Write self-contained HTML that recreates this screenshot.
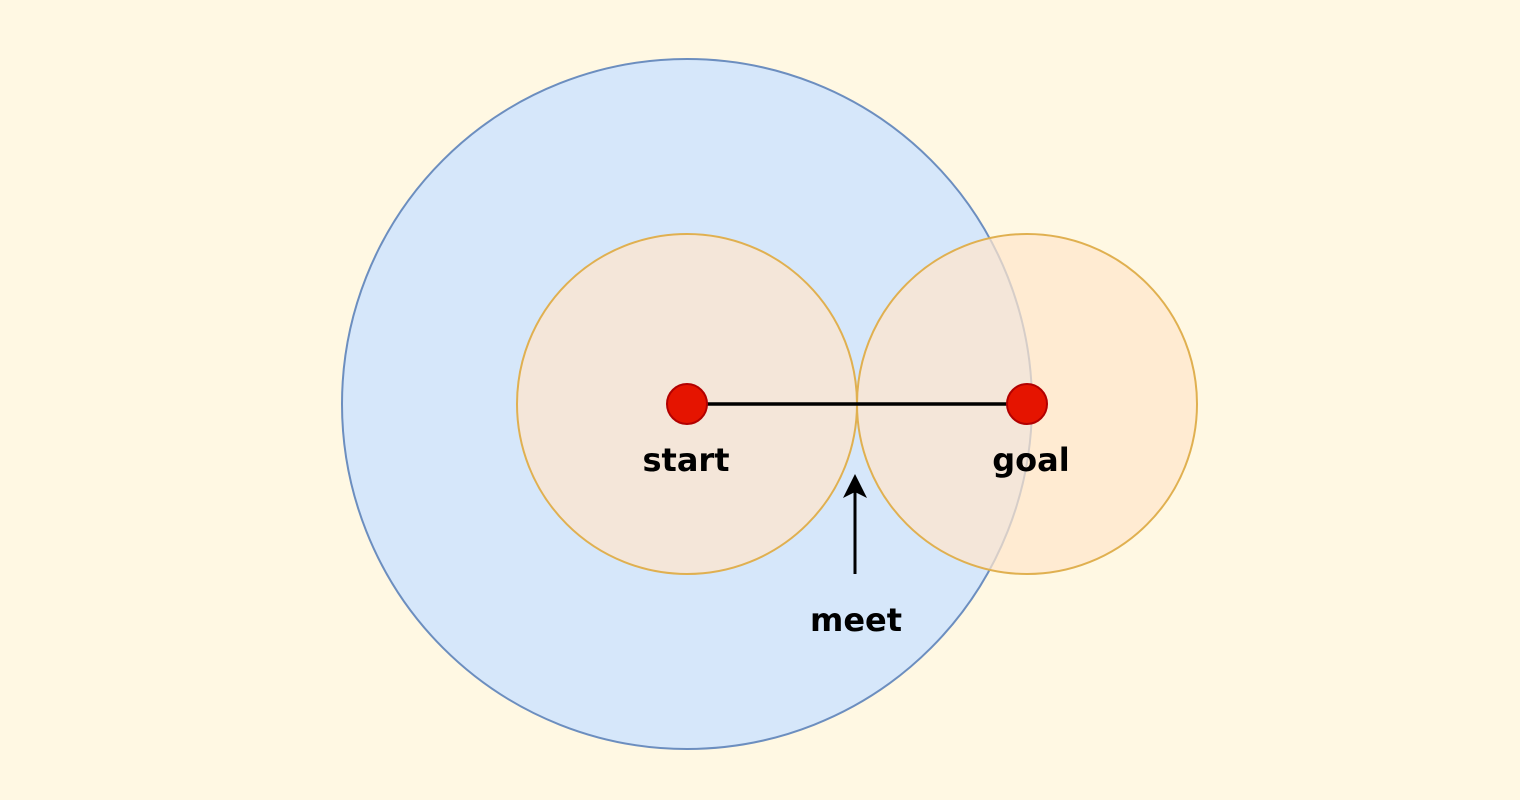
<!DOCTYPE html>
<html><head><meta charset="utf-8"><style>
html,body{margin:0;padding:0;background:#fff8e3;}
svg{display:block}
text{font-family:"DejaVu Sans","Liberation Sans",sans-serif;font-weight:bold;font-size:32px;fill:#000;text-anchor:middle}
</style></head><body>
<svg width="1520" height="800" viewBox="0 0 1520 800">
<rect width="1520" height="800" fill="#fff8e3"/>
<circle cx="687" cy="404" r="345" fill="#d6e7fa" stroke="#6c8ebf" stroke-width="2"/>
<circle cx="687" cy="404" r="170" fill="#ffe6cc" fill-opacity="0.72" stroke="#e0b050" stroke-width="2"/>
<circle cx="1027" cy="404" r="170" fill="#ffe6cc" fill-opacity="0.72" stroke="#e0b050" stroke-width="2"/>
<line x1="707" y1="404" x2="1007" y2="404" stroke="#000" stroke-width="3.5"/>
<circle cx="687" cy="404" r="20" fill="#e51400" stroke="#b20000" stroke-width="2"/>
<circle cx="1027" cy="404" r="20" fill="#e51400" stroke="#b20000" stroke-width="2"/>
<line x1="855" y1="574" x2="855" y2="490" stroke="#000" stroke-width="3"/>
<path d="M855 474 L867 498 L855 492 L843 498 Z" fill="#000"/>
<text x="686" y="471">start</text>
<text x="1031" y="471">goal</text>
<text x="856" y="631">meet</text>
</svg>
</body></html>
